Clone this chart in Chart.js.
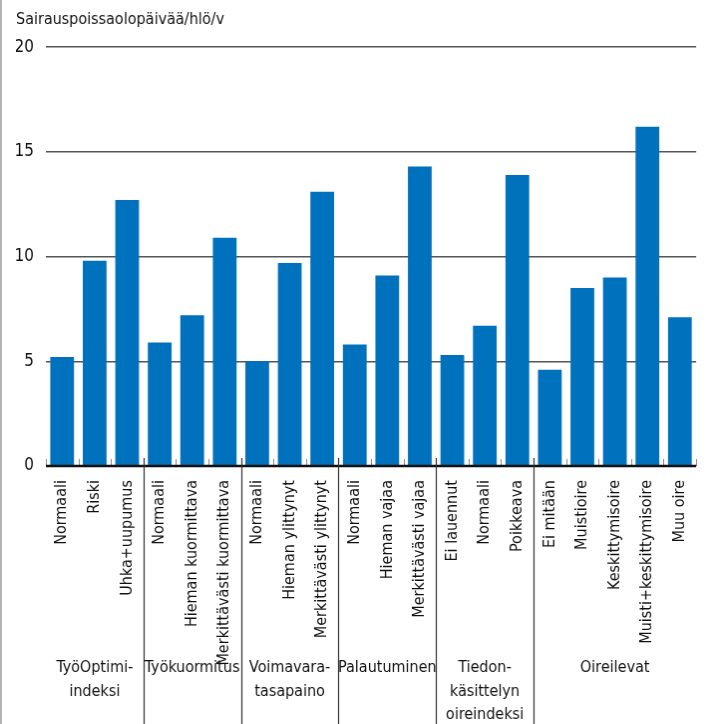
<!DOCTYPE html>
<html>
<head>
<meta charset="utf-8">
<script src="https://cdn.jsdelivr.net/npm/chart.js@4"></script>
<style>
  html, body { margin: 0; padding: 0; background: #fff; }
  #kaavio { display: block; border-left: 2px solid #b4b4b4; }
</style>
</head>
<body>
<canvas id="kaavio" width="705" height="724"></canvas>
<script>
const otsikko = "Sairauspoissaolopäivää/hlö/v";
const kategoriat = [
  "Normaali", "Riski", "Uhka+uupumus",
  "Normaali", "Hieman kuormittava", "Merkittävästi kuormittava",
  "Normaali", "Hieman ylittynyt", "Merkittävästi ylittynyt",
  "Normaali", "Hieman vajaa", "Merkittävästi vajaa",
  "Ei lauennut", "Normaali", "Poikkeava",
  "Ei mitään", "Muistioire", "Keskittymisoire", "Muisti+keskittymisoire", "Muu oire"
];
const arvot = [5.2, 9.8, 12.7, 5.9, 7.2, 10.9, 5.0, 9.7, 13.1, 5.8, 9.1, 14.3, 5.3, 6.7, 13.9, 4.6, 8.5, 9.0, 16.2, 7.1];
const ryhmat = [["TyöOptimi-", "indeksi"], ["Työkuormitus"], ["Voimavara-", "tasapaino"], ["Palautuminen"], ["Tiedon-", "käsittelyn", "oireindeksi"], ["Oireilevat"]];
const ryhmienKoot = [3, 3, 3, 3, 3, 5];
const yMax = 20;
const yVali = 5;

const fontti = "'Liberation Sans Narrow', 'DejaVu Sans Condensed', 'Roboto Condensed', 'Liberation Sans', sans-serif";
const sininen = "#0071bc";

// Omat viivat: pienet merkit akselilla, nollaviiva, ryhmien erottimet ja ryhmien nimet
const ryhmaPlugin = {
  id: "ryhmat",
  afterDatasetsDraw(chart) {
    const ctx = chart.ctx, x = chart.scales.x, y = chart.scales.y, alue = chart.chartArea;
    const y0 = y.getPixelForValue(0);
    const puoli = (x.getPixelForValue(1) - x.getPixelForValue(0)) / 2;
    ctx.save();
    ctx.strokeStyle = "#8a8a8a";
    ctx.lineWidth = 1;
    for (let i = 0; i <= kategoriat.length; i++) {
      const bx = Math.round(x.getPixelForValue(i) - puoli) + 0.5;
      ctx.beginPath(); ctx.moveTo(bx, y0 - 7); ctx.lineTo(bx, y0); ctx.stroke();
    }
    ctx.strokeStyle = "#111";
    ctx.lineWidth = 2.5;
    ctx.beginPath(); ctx.moveTo(alue.left, y0); ctx.lineTo(alue.right, y0); ctx.stroke();

    let alku = 0;
    ctx.fillStyle = "#111";
    ctx.font = "16px " + fontti;
    ctx.textAlign = "center";
    ctx.textBaseline = "middle";
    ryhmienKoot.forEach((n, g) => {
      const vasen = x.getPixelForValue(alku) - puoli;
      const oikea = x.getPixelForValue(alku + n - 1) + puoli;
      if (g > 0) {
        ctx.strokeStyle = "#333";
        ctx.lineWidth = 1.2;
        const dx = Math.round(vasen) + 0.5;
        ctx.beginPath(); ctx.moveTo(dx, y0 - 8); ctx.lineTo(dx, chart.height); ctx.stroke();
      }
      const keski = (vasen + oikea) / 2;
      ryhmat[g].forEach((rivi, k) => ctx.fillText(rivi, keski, y0 + 202 + k * 23.5));
      alku += n;
    });
    ctx.restore();
  }
};

new Chart(document.getElementById("kaavio"), {
  type: "bar",
  data: {
    labels: kategoriat,
    datasets: [{ data: arvot, backgroundColor: sininen, barPercentage: 0.73, categoryPercentage: 1 }]
  },
  options: {
    responsive: false,
    animation: false,
    layout: { padding: { left: 14, right: 0, top: 0, bottom: 0 } },
    plugins: {
      legend: { display: false },
      tooltip: { enabled: false },
      title: {
        display: true, text: otsikko, align: "start", color: "#111",
        font: { family: fontti, size: 16, weight: "normal" },
        padding: { top: 10, bottom: 18 }
      }
    },
    scales: {
      x: {
        offset: true,
        grid: { display: false },
        border: { display: false },
        afterFit: s => { s.height = 258; },
        ticks: {
          autoSkip: false, minRotation: 90, maxRotation: 90, padding: 6,
          color: "#111", font: { family: fontti, size: 16 }
        }
      },
      y: {
        min: 0, max: yMax,
        afterFit: s => { s.width = 30; },
        border: { display: false },
        grid: {
          drawTicks: false,
          color: c => c.tick.value === 0 ? "rgba(0,0,0,0)" : "#555",
          lineWidth: 1.5
        },
        ticks: {
          stepSize: yVali, padding: 12,
          color: "#111", font: { family: fontti, size: 17 }
        }
      }
    }
  },
  plugins: [ryhmaPlugin]
});
</script>
</body>
</html>
